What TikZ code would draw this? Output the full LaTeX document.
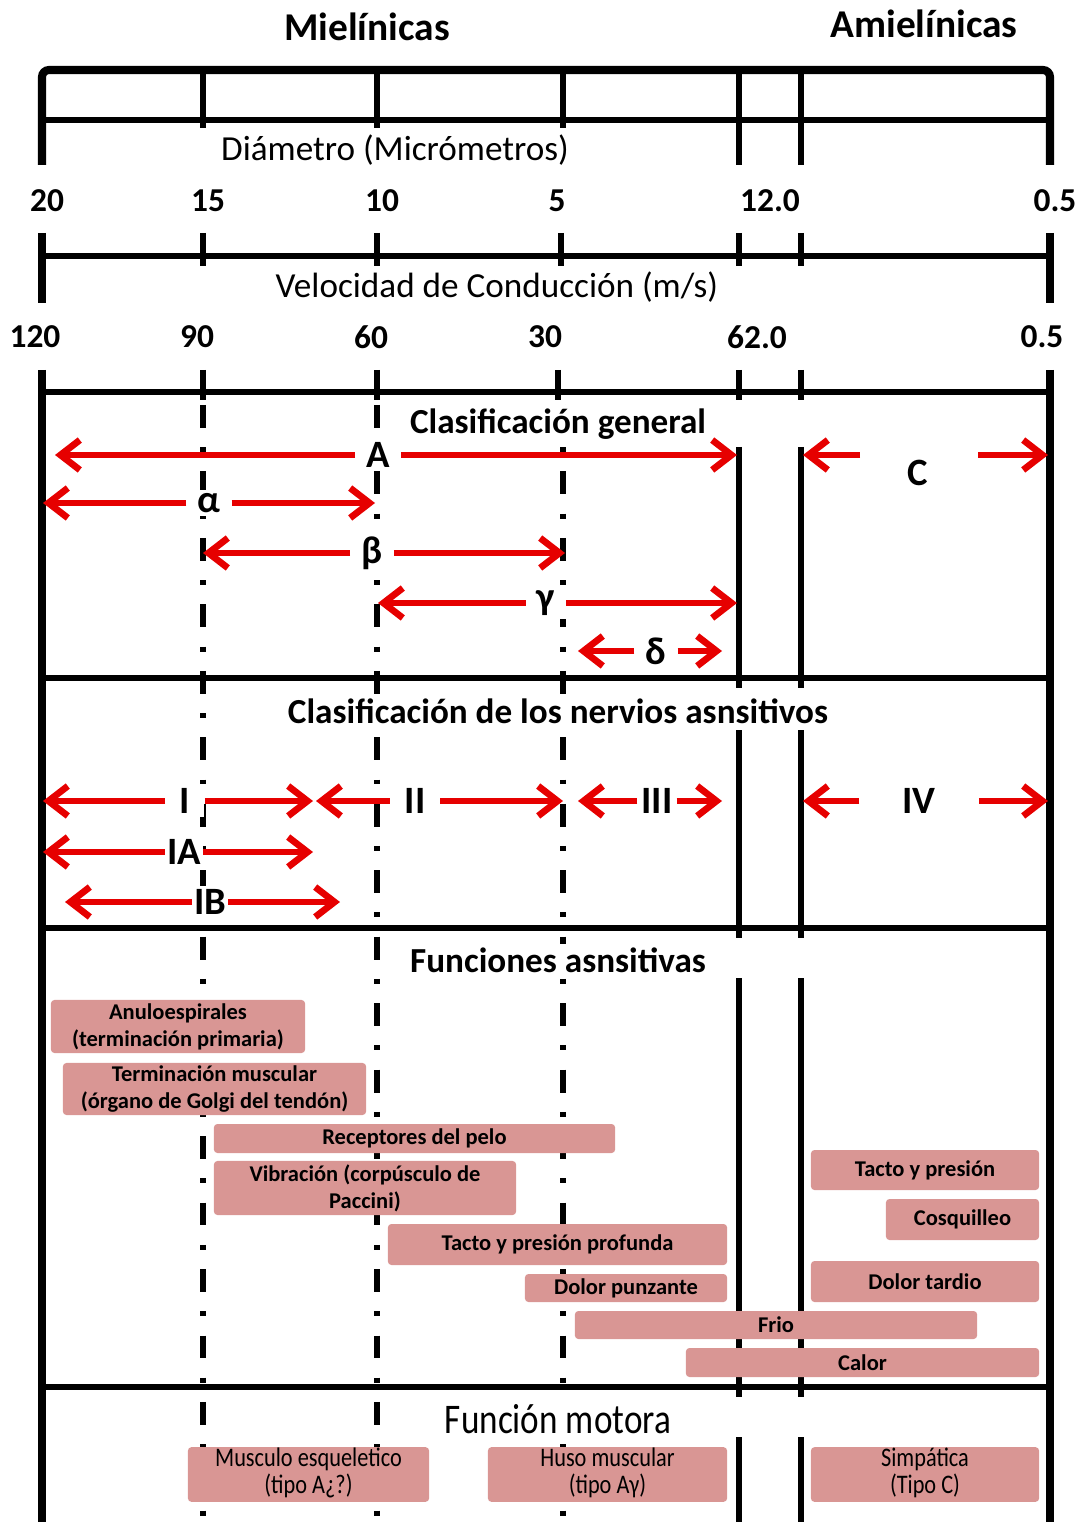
\documentclass[tikz,border=0pt]{standalone}
\usepackage{fontspec}
\setmainfont{Carlito}
\usetikzlibrary{arrows.meta,positioning}
\definecolor{ArrRed}{HTML}{E60000}
\definecolor{Rose}{HTML}{D99694}
\newcommand{\fsz}[2]{\fontsize{#1}{#2}\selectfont}
\newcommand{\tall}[1]{\scalebox{1}[1.2]{\begin{tabular}{@{}c@{}}#1\end{tabular}}}

\begin{document}
\begin{tikzpicture}[x=0.01cm,y=-0.01cm,
    frame/.style={line width=2.3pt},
    rule/.style={line width=1.5pt},
    tick/.style={line width=1.5pt},
    guide/.style={line width=1.5pt,dash pattern=on 6.5pt off 5.5pt on 1.4pt off 5.5pt},
    head/.style={font=\bfseries\fsz{11.2}{13}},
    scalelab/.style={font=\fsz{10}{12}},
    num/.style={font=\bfseries\fsz{9.5}{11}},
    sect/.style={font=\bfseries\fsz{10}{12},fill=white,inner sep=1pt},
    lab/.style={font=\bfseries\fsz{11}{13},fill=white,inner xsep=3pt,inner ysep=1pt},
    redarr/.style={ArrRed,line width=1.9pt,-{Straight Barb[length=5.5pt,width=8.5pt]}},
    fbox/.style={fill=Rose,rounded corners=1pt,inner sep=0pt,align=center,
      font=\bfseries\fsz{6.4}{7.7}},
    mbox/.style={fbox,font=\fsz{6.35}{6.4}}
  ]
    \useasboundingbox (0,0) rectangle (1080,1522);
    % headings and scales
    \node[head] (miel) at (367,27) {Mielínicas};
    \node[head] (amiel) at (924,24) {Amielínicas};
    \draw[frame,rounded corners=2pt] (42,165) -- (42,70) -- (1050,70) -- (1050,165);
    \draw[rule] (42,120) -- (1050,120);
    \foreach \x in {203,377,563} \draw[tick] (\x,70) -- (\x,128);
    \foreach \x in {739,801} \draw[tick] (\x,70) -- (\x,165);
    \node[scalelab] (diam) at (395,150) {Diámetro (Micrómetros)};
    \foreach \x/\t [count=\i] in {47/20,208/15,382/10,557/5,770/12.0,1055/0.5}
      \node[num] (d\i) at (\x,201) {\t};
    \draw[frame] (42,233) -- (42,303);
    \draw[frame] (1050,233) -- (1050,303);
    \draw[rule] (42,256) -- (1050,256);
    \foreach \x in {203,377,561,739,801} \draw[tick] (\x,233) -- (\x,266);
    \node[scalelab] (vel) at (497,287) {Velocidad de Conducción (m/s)};
    \foreach \x/\t [count=\i] in {35/120,197/90,371/60,545/30,757/62.0,1042/0.5}
      \node[num] (v\i) at (\x,337) {\t};
    % table body
    \foreach \x in {203,377,563} \draw[guide] (\x,405) -- (\x,1522);
    \foreach \a/\b in {447/688,730/938,978/1397,1437/1522} {
      \draw[tick] (739,\a) -- (739,\b);
      \draw[tick] (801,\a) -- (801,\b);
    }
    \draw[frame] (42,370) -- (42,1522);
    \draw[frame] (1050,370) -- (1050,1522);
    \foreach \y in {392,678,928,1387} \draw[rule,line width=1.9pt] (42,\y) -- (1050,\y);
    \foreach \x in {203,377,558,739,801} \draw[tick] (\x,370) -- (\x,400);
    \node[sect] (gen) at (558,424) {Clasificación general};
    \node[sect] (sens) at (558,711) {Clasificación de los nervios asnsitivos};
    \node[sect] (func) at (558,960) {Funciones asnsitivas};
    \node[sect,font=\fsz{10}{12}] (mot) at (558,1419) {\scalebox{1}[1.2]{Función motora}};
    % fibre ranges
    \foreach \n/\t/\c/\y/\l/\r/\s in {A/A/378/455/55/737/3pt, alpha/α/209/503/43/375/3pt,
        beta/β/372/553/203/565/3pt, gamma/γ/546/603/378/737/3pt, delta/δ/656/651/578/722/3pt,
        I/I/185/801/43/313/4pt, II/II/415/801/316/563/4pt, III/III/657/801/578/722/1pt,
        IA/IA/184/852/43/313/0.5pt, IB/IB/210/902/65/340/0.5pt} {
      \node[lab,inner xsep=\s] (\n) at (\c,\y) {\t};
      \coordinate (\n l) at (\l,\y);
      \coordinate (\n r) at (\r,\y);
      \draw[redarr] (\n) -- (\n l);
      \draw[redarr] (\n) -- (\n r);
    }
    \node[lab] (C) at (918,473) {C};
    \coordinate (C1) at (860,455);
    \coordinate (Cl) at (803,455);
    \coordinate (C2) at (978,455);
    \coordinate (Cr) at (1048,455);
    \draw[redarr] (C1) -- (Cl);
    \draw[redarr] (C2) -- (Cr);
    \node[lab,minimum width=1.18cm] (IV) at (919,801) {IV};
    \coordinate (IVl) at (803,801);
    \coordinate (IVr) at (1048,801);
    \draw[redarr] (IV) -- (IVl);
    \draw[redarr] (IV) -- (IVr);
    % sensory functions
    \node[fbox,minimum width=2.54cm,minimum height=0.53cm] (anulo) at (178,1026.5)
      {Anuloespirales\\(terminación primaria)};
    \node[fbox,minimum width=3.03cm,minimum height=0.52cm] (golgi) at (214.5,1089)
      {Terminación muscular\\(órgano de Golgi del tendón)};
    \node[fbox,minimum width=4.01cm,minimum height=0.29cm] (pelo) at (414.5,1138.5)
      {Receptores del pelo};
    \node[fbox,minimum width=3.02cm,minimum height=0.54cm] (vibr) at (365,1188)
      {Vibración (corpúsculo de\\Paccini)};
    \node[fbox,minimum width=3.39cm,minimum height=0.41cm] (prof) at (557.5,1244.5)
      {Tacto y presión profunda};
    \node[fbox,minimum width=2.02cm,minimum height=0.28cm] (punz) at (626,1288)
      {Dolor punzante};
    \node[fbox,minimum width=4.02cm,minimum height=0.28cm] (frio) at (776,1325) {Frio};
    \node[fbox,minimum width=3.53cm,minimum height=0.29cm] (calor) at (862.5,1362.5) {Calor};
    \node[fbox,minimum width=2.28cm,minimum height=0.40cm] (tacto) at (925,1170)
      {Tacto y presión};
    \node[fbox,minimum width=1.53cm,minimum height=0.41cm] (cosq) at (962.5,1219.5)
      {Cosquilleo};
    \node[fbox,minimum width=2.28cm,minimum height=0.41cm] (tard) at (925,1281.5)
      {Dolor tardio};
    % motor functions
    \node[mbox,minimum width=2.41cm,minimum height=0.53cm] (esq) at (308.5,1474.5)
      {\tall{Musculo esqueletico\\(tipo A¿?)}};
    \node[mbox,minimum width=2.39cm,minimum height=0.53cm] (huso) at (607.5,1474.5)
      {\tall{Huso muscular\\(tipo Aγ)}};
    \node[mbox,minimum width=2.28cm,minimum height=0.53cm] (simp) at (925,1474.5)
      {\tall{Simpática\\(Tipo C)}};
  \end{tikzpicture}
\end{document}
